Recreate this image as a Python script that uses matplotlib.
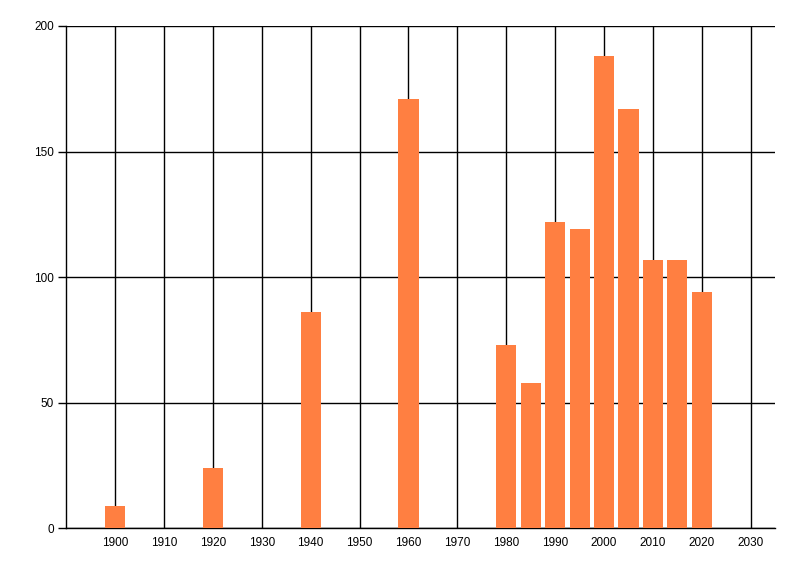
import matplotlib
matplotlib.use("Agg")
import matplotlib.pyplot as plt

years = [1900, 1920, 1940, 1960, 1980, 1985, 1990, 1995, 2000, 2005, 2010, 2015, 2020]
values = [9, 24, 86, 171, 73, 58, 122, 119, 188, 167, 107, 107, 94]
xticks = list(range(1900, 2031, 10))
yticks = [0, 50, 100, 150, 200]

fig = plt.figure(figsize=(8, 5.76), dpi=100)
ax = fig.add_axes([0.0828, 0.0828, 0.969 - 0.0828, 0.9549 - 0.0828])

ax.bar(years, values, width=4.1, color="#FF7F41", zorder=3, linewidth=0)

ax.set_xlim(1890, 2035)
ax.set_ylim(0, 200)
ax.set_xticks(xticks)
ax.set_yticks(yticks)
ax.grid(True, color="black", linewidth=1.0, zorder=0)
ax.set_axisbelow(True)

for s in ["top", "right"]:
    ax.spines[s].set_visible(False)
for s in ["left", "bottom"]:
    ax.spines[s].set_color("black")
    ax.spines[s].set_linewidth(1.0)

ax.tick_params(axis="x", length=0, pad=6, labelsize=8.5)
ax.tick_params(axis="y", length=6, width=1.0, pad=3, labelsize=8.5)
for lab in ax.get_xticklabels() + ax.get_yticklabels():
    lab.set_fontfamily("Liberation Sans")

fig.savefig("out.png", dpi=100)
